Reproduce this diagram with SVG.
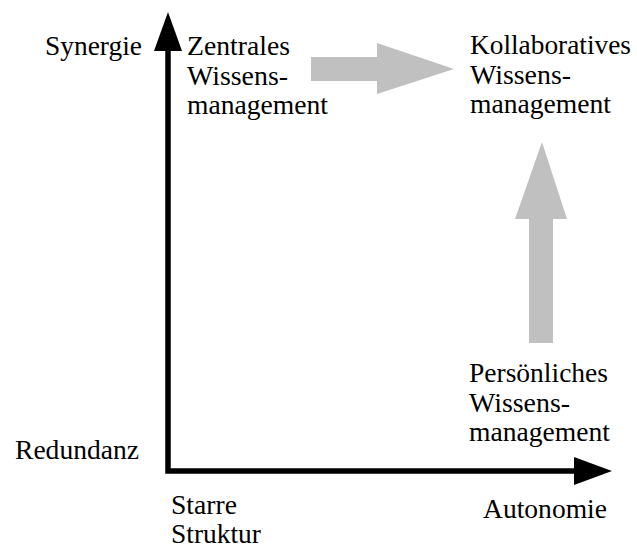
<svg xmlns="http://www.w3.org/2000/svg" width="637" height="550" viewBox="0 0 637 550">
<style>
text { font-family: "Liberation Serif", "Times New Roman", serif; font-size: 27.3px; fill: #000; }
.flow { fill: #c0c0c0; stroke: none; }
.axis { fill: none; stroke: #000; stroke-width: 5.5; stroke-linejoin: miter; }
</style>
<rect width="637" height="550" fill="#fff"/>
<g id="axes">
  <path class="axis" d="M168,50 V471 H576"/>
  <polygon points="168,12 154,51 182,51" fill="#000"/>
  <polygon points="612,471 574,457 574,485" fill="#000"/>
</g>
<g id="connectors">
  <polygon class="flow" points="311,57 377,57 377,43 454,69 377,94 377,81 311,81"/>
  <polygon class="flow" points="529,343 529,219 515,219 542,142 567,219 553,219 553,343"/>
</g>
<g id="label-synergie"><text x="45" y="55" textLength="97" lengthAdjust="spacingAndGlyphs">Synergie</text></g>
<g id="label-redundanz"><text x="15" y="459" textLength="124" lengthAdjust="spacingAndGlyphs">Redundanz</text></g>
<g id="label-starre">
  <text x="171" y="514" textLength="66" lengthAdjust="spacingAndGlyphs">Starre</text>
  <text x="171" y="543" textLength="90" lengthAdjust="spacingAndGlyphs">Struktur</text>
</g>
<g id="label-autonomie"><text x="483" y="518" textLength="124" lengthAdjust="spacingAndGlyphs">Autonomie</text></g>
<g id="node-zentral">
  <text x="187" y="55" textLength="103" lengthAdjust="spacingAndGlyphs">Zentrales</text>
  <text x="187" y="84.5" textLength="101" lengthAdjust="spacingAndGlyphs">Wissens-</text>
  <text x="187" y="114" textLength="141" lengthAdjust="spacingAndGlyphs">management</text>
</g>
<g id="node-kollaborativ">
  <text x="470" y="54" textLength="161" lengthAdjust="spacingAndGlyphs">Kollaboratives</text>
  <text x="470" y="83.5" textLength="101" lengthAdjust="spacingAndGlyphs">Wissens-</text>
  <text x="470" y="113" textLength="141" lengthAdjust="spacingAndGlyphs">management</text>
</g>
<g id="node-persoenlich">
  <text x="469" y="382" textLength="139" lengthAdjust="spacingAndGlyphs">Persönliches</text>
  <text x="469" y="411.5" textLength="101" lengthAdjust="spacingAndGlyphs">Wissens-</text>
  <text x="469" y="441" textLength="141" lengthAdjust="spacingAndGlyphs">management</text>
</g>
</svg>
